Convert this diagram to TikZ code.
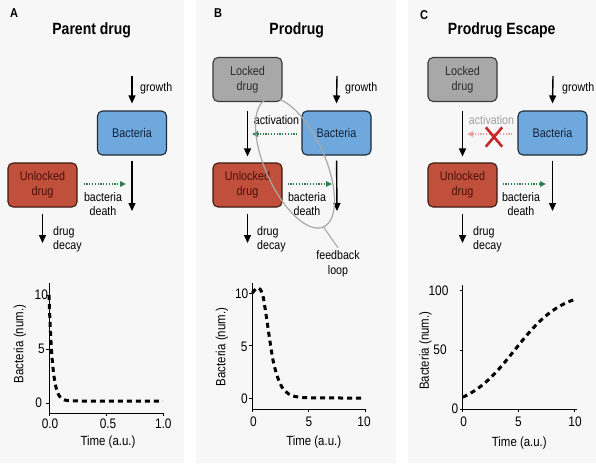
\documentclass[tikz,border=0pt]{standalone}
\usepackage{fontspec}
\setmainfont{Liberation Sans}[FakeStretch=0.86]
\usetikzlibrary{arrows.meta,shapes.geometric}
\definecolor{bgpanel}{HTML}{F7F7F7}
\definecolor{bluefill}{HTML}{6FA8DC}
\definecolor{blueline}{HTML}{1F2A36}
\definecolor{bluetext}{HTML}{14233A}
\definecolor{redfill}{HTML}{C0503C}
\definecolor{redline}{HTML}{3D1A12}
\definecolor{redtext}{HTML}{4A0F0A}
\definecolor{grayfill}{HTML}{A8A8A8}
\definecolor{grayline}{HTML}{3A3A3A}
\definecolor{graytext}{HTML}{2A2A2A}
\definecolor{dgreen}{HTML}{2E7D4E}
\definecolor{pinkarr}{HTML}{E8A0A0}
\definecolor{fadetext}{HTML}{A0A0A0}
\definecolor{xred}{HTML}{C62828}
\definecolor{loopgray}{HTML}{A8A8A8}
\begin{document}
\begin{tikzpicture}[x=1pt,y=-1pt,
  boxbase/.style={rounded corners=5pt, line width=1.1pt, minimum width=69pt, minimum height=44pt,
    align=center, inner sep=0pt, font=\fontsize{12.6}{15}\selectfont},
  bactbox/.style={boxbase, draw=blueline, fill=bluefill, text=bluetext},
  unlockbox/.style={boxbase, draw=redline, fill=redfill, text=redtext},
  lockbox/.style={boxbase, draw=grayline, fill=grayfill, text=graytext},
  arr/.style={line width=1.4pt, -{Triangle[width=7pt,length=8pt]}},
  dotarr/.style={draw=dgreen, line width=1.3pt, dash pattern=on 1.3pt off 1.5pt,
    -{Triangle[width=5.5pt,length=6pt,fill=dgreen]}},
  pinkdot/.style={draw=pinkarr, line width=1.3pt, dash pattern=on 1.3pt off 1.5pt,
    -{Triangle[width=5.5pt,length=6pt,fill=pinkarr]}},
  lbl/.style={inner sep=0pt, font=\fontsize{12.4}{14.5}\selectfont},
  ttl/.style={inner sep=0pt, font=\fontsize{16.3}{18}\selectfont\bfseries},
  plab/.style={inner sep=0pt, font=\fontsize{12.8}{14}\selectfont\bfseries},
  tick/.style={inner sep=0pt, font=\fontsize{13.8}{15}\selectfont},
  axlab/.style={inner sep=0pt, font=\fontsize{13.3}{15}\selectfont},
  axisline/.style={line width=1pt},
  plotdash/.style={line width=3pt, dash pattern=on 5pt off 4pt},
  loopell/.style={draw=loopgray, line width=1.2pt, ellipse, minimum width=140pt, minimum height=60pt, inner sep=0pt, outer sep=0pt}
]
\useasboundingbox (0,0) rectangle (596,463);
\fill[white] (0,0) rectangle (596,463);
\fill[bgpanel] (0,0) rectangle (184,463);
\fill[bgpanel] (196,0) rectangle (396,463);
\fill[bgpanel] (408,0) rectangle (596,463);

% ---------------- Panel A ----------------
\node[plab] (labA) at (14,13) {A};
\node[ttl] (ttlA) at (91.7,30) {Parent drug};
\node[bactbox] (bacA) at (132,133) {Bacteria};
\node[unlockbox] (unlA) at (42.5,185) {Unlocked\\drug};
\coordinate (gA) at (132,76);
\coordinate (dA) at (132,211);
\coordinate (kA) at (42.5,243);
\coordinate (bdA) at (126,184);
\draw[arr] (gA) -- ([yshift=7pt]bacA.north);
\draw[arr, shorten <=5pt] (bacA.south) -- (dA);
\draw[arr, shorten <=6pt] (unlA.south) -- (kA);
\draw[dotarr, shorten <=6pt] (unlA.east |- bdA) -- (bdA);
\node[lbl, anchor=west] (grA) at (140,88) {growth};
\node[lbl, align=center] (bdtA) at (103,204) {bacteria\\death};
\node[lbl, align=left, anchor=west] (ddA) at (53,239.5) {drug\\decay};

% ---------------- Panel B ----------------
\node[plab] (labB) at (218,13) {B};
\node[ttl] (ttlB) at (296.7,30) {Prodrug};
\node[lockbox] (lckB) at (247.5,79.5) {Locked\\drug};
\node[bactbox] (bacB) at (336.5,133) {Bacteria};
\node[unlockbox] (unlB) at (247.5,185) {Unlocked\\drug};
\coordinate (gB) at (337,76);
\coordinate (dB) at (337,211);
\coordinate (kB) at (247.5,243);
\coordinate (bdB) at (332,184);
\coordinate (acB) at (252,134);
\draw[arr] (gB) -- ([yshift=7pt]bacB.north);
\draw[arr, shorten <=5pt] (bacB.south) -- (dB);
\draw[arr, shorten <=6pt] (unlB.south) -- (kB);
\draw[arr, shorten <=9pt, shorten >=6pt] (lckB.south) -- (unlB.north);
\draw[dotarr, shorten <=5pt] (unlB.east |- bdB) -- (bdB);
\draw[dotarr, shorten <=4pt] (bacB.west |- acB) -- (acB);
\node[lbl, anchor=west] (grB) at (345,88) {growth};
\node[lbl] (acTB) at (276.5,120) {activation};
\node[lbl, align=center] (bdtB) at (307,204) {bacteria\\death};
\node[lbl, align=left, anchor=west] (ddB) at (257,239.5) {drug\\decay};
\node[loopell, rotate=-66] (fbB) at (295,163) {};
\node[lbl, align=center] (fbl) at (338,264) {feedback\\loop};
\draw[draw=loopgray, line width=1.1pt] (fbB.east) -- ([yshift=3pt]fbl.north);

% ---------------- Panel C ----------------
\node[plab] (labC) at (424,15) {C};
\node[ttl] (ttlC) at (501.7,30) {Prodrug Escape};
\node[lockbox] (lckC) at (462.5,79.5) {Locked\\drug};
\node[bactbox] (bacC) at (552.5,133) {Bacteria};
\node[unlockbox] (unlC) at (462.5,185) {Unlocked\\drug};
\coordinate (gC) at (553,76);
\coordinate (dC) at (552.5,211);
\coordinate (kC) at (462.5,243);
\coordinate (bdC) at (546,184);
\coordinate (acC) at (467,134);
\draw[arr] (gC) -- ([yshift=7pt]bacC.north);
\draw[arr, shorten <=5pt] (bacC.south) -- (dC);
\draw[arr, shorten <=6pt] (unlC.south) -- (kC);
\draw[arr, shorten <=9pt, shorten >=6pt] (lckC.south) -- (unlC.north);
\draw[dotarr, shorten <=5pt] (unlC.east |- bdC) -- (bdC);
\draw[pinkdot, shorten <=5pt] (bacC.west |- acC) -- (acC);
\node[lbl, text=fadetext] (acTC) at (491.5,120) {activation};
\node[inner sep=0pt, minimum width=16pt, minimum height=19pt] (xC) at (494,137) {};
\draw[xred, line width=2.6pt] (xC.north west) -- (xC.south east);
\draw[xred, line width=2.6pt] (xC.north east) -- (xC.south west);
\node[lbl, anchor=west] (grC) at (562,88) {growth};
\node[lbl, align=center] (bdtC) at (521,204) {bacteria\\death};
\node[lbl, align=left, anchor=west] (ddC) at (473,239.5) {drug\\decay};

% ---------------- Plot A ----------------
\draw[axisline] (49,283) -- (49,413) -- (163,413);
\foreach \yy in {295,349,403} \draw[axisline] (46,\yy) -- (49,\yy);
\foreach \xx in {49,106,163} \draw[axisline] (\xx,413) -- (\xx,416);
\node[tick] (ayA10) at (41.3,295) {10};
\node[tick] (ayA5) at (41.3,349) {5};
\node[tick] (ayA0) at (38.7,403) {0};
\node[tick] (axA0) at (50,424) {0.0};
\node[tick] (axA1) at (108,424) {0.5};
\node[tick] (axA2) at (163.3,424) {1.0};
\node[axlab] (xlA) at (108,441.7) {Time (a.u.)};
\node[axlab, rotate=90] (ylA) at (20,344) {Bacteria (num.)};
\draw[plotdash] plot[domain=0:1, samples=250] ({49+114*\x},{401-106*exp(-\x/0.03)});

% ---------------- Plot B ----------------
\draw[axisline] (252.3,283) -- (252.3,409) -- (366,409);
\foreach \yy in {293,345.5,398} \draw[axisline] (249.3,\yy) -- (252.3,\yy);
\foreach \xx in {252.3,308.7,365} \draw[axisline] (\xx,409) -- (\xx,412);
\node[tick] (ayB10) at (241.7,294) {10};
\node[tick] (ayB5) at (244.2,346.5) {5};
\node[tick] (ayB0) at (244.5,398.3) {0};
\node[tick] (axB0) at (253.3,421.7) {0};
\node[tick] (axB1) at (309,421.7) {5};
\node[tick] (axB2) at (364,421.7) {10};
\node[axlab] (xlB) at (313.7,442.3) {Time (a.u.)};
\node[axlab, rotate=90] (ylB) at (222,347) {Bacteria (num.)};
\draw[plotdash] plot[smooth, tension=0.6] coordinates {(252.3,293) (257.9,287.8) (262.4,294.0) (265.8,313.0) (269.2,336.1) (273.7,363.4) (280.5,384.4) (288.4,393.8) (299.6,397.2) (319.9,397.9) (365,398)};

% ---------------- Plot C ----------------
\draw[axisline] (462.7,285) -- (462.7,409) -- (577,409);
\foreach \yy in {290.7,350} \draw[axisline] (459.7,\yy) -- (462.7,\yy);
\draw[axisline] (459.7,409) -- (462.7,409);
\foreach \xx in {462.7,518.7,574.7} \draw[axisline] (\xx,409) -- (\xx,412);
\node[tick] (ayC100) at (438.5,290.7) {100};
\node[tick] (ayC50) at (440,350) {50};
\node[tick] (ayC0) at (455,409) {0};
\node[tick] (axC0) at (463.7,421.7) {0};
\node[tick] (axC1) at (518.3,421.7) {5};
\node[tick] (axC2) at (575,421.7) {10};
\node[axlab] (xlC) at (519.3,442.7) {Time (a.u.)};
\node[axlab, rotate=90] (ylC) at (425.5,350.8) {Bacteria (num.)};
\draw[plotdash] plot[domain=0:10, samples=120] ({462.7+11.2*\x},{409-1.183*100/(1+9*exp(-0.472*\x))});
\end{tikzpicture}
\end{document}
